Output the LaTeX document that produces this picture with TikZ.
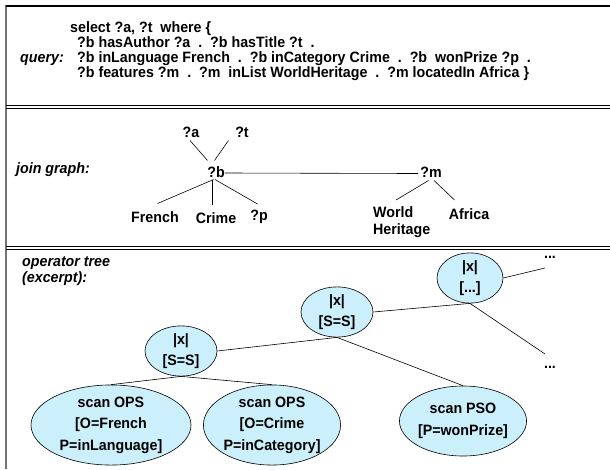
\documentclass[tikz,border=0pt]{standalone}
\usepackage{fontspec}
\setmainfont{Liberation Sans}[FakeStretch=0.95]
\usetikzlibrary{shapes.geometric}
\tikzset{
  txt/.style={font=\bfseries\fontsize{15}{17}\selectfont, inner sep=0pt},
  lbl/.style={font=\bfseries\itshape\fontsize{15}{16}\selectfont, inner sep=0pt, align=left},
  op/.style={ellipse, draw=black, line width=0.6pt, fill=cyan!20, inner sep=0pt, align=center,
     font=\bfseries\fontsize{15}{21.5}\selectfont},
  edge/.style={line width=0.6pt},
}
\begin{document}
\begin{tikzpicture}[x=1pt,y=-1pt]
\useasboundingbox (0,0) rectangle (610,469);
% frame
\draw[black!55, line width=2pt] (6,5) -- (6,469);
\draw[line width=1.4pt] (6,6) -- (610,6);
\draw[line width=0.9pt] (6,105.5) -- (610,105.5);
\draw[line width=0.9pt] (6,108.5) -- (610,108.5);
\draw[line width=0.9pt] (6,246.5) -- (610,246.5);
\draw[line width=0.9pt] (6,249.5) -- (610,249.5);
% query
\node[lbl, anchor=base west] (ql) at (20,62) {query:};
\node[txt, anchor=base west] (q1) at (70,32) {select ?a, ?t\ \ where \{};
\node[txt, anchor=base west] (q2) at (77,47) {?b hasAuthor ?a\ \ .\ \ ?b hasTitle ?t\ \ .};
\node[txt, anchor=base west] (q3) at (77,62) {?b inLanguage French\ \ .\ \ ?b inCategory Crime\ \ .\ \ ?b\ \ wonPrize ?p\ \ .};
\node[txt, anchor=base west] (q4) at (77,77) {?b features ?m\ \ .\ \ ?m\ \ inList WorldHeritage\ \ .\ \ ?m locatedIn Africa \}};
% join graph
\node[lbl, anchor=west] (jl) at (16,170) {join graph:};
\node[txt] (a) at (191,132) {?a};
\node[txt] (t) at (242,132) {?t};
\node[txt] (b) at (216,172) {?b};
\node[txt] (m) at (431,172) {?m};
\node[txt] (fr) at (155,217) {French};
\node[txt] (cr) at (216,218) {Crime};
\node[txt] (p) at (259,217) {?p};
\node[txt, align=left, anchor=north west] (wh) at (373,206) {World\\Heritage};
\node[txt] (af) at (469,214) {Africa};
\draw[edge] (190,140.5) -- (207.5,160.5);
\draw[edge] (228.5,140.5) -- (214.5,160.5);
\draw[edge] (b.east) ++(0,1) -- (418,173.5);
\draw[edge] (213.5,179.5) -- (157.5,203.5);
\draw[edge] (212.5,179.5) -- (212.5,205);
\draw[edge] (215,179.5) -- (257.5,204);
\draw[edge] (428.5,180.5) -- (396,200);
\draw[edge] (434,180.5) -- (454.5,200);
% operator tree
\node[lbl, anchor=north west] (ol) at (22,257) {operator tree\\(excerpt):};
\node[op, minimum width=66pt, minimum height=46pt] (j3) at (470,278) {|x|\\{[}...{]}};
\node[op, minimum width=72pt, minimum height=50pt] (j2) at (337,312) {|x|\\{[}S=S{]}};
\node[op, minimum width=72pt, minimum height=48pt] (j1) at (181,351) {|x|\\{[}S=S{]}};
\node[op, minimum width=160pt, minimum height=74pt] (s1) at (111,425) {scan OPS\\{[}O=French\\P=inLanguage{]}};
\node[op, minimum width=136pt, minimum height=74pt] (s2) at (272,425) {scan OPS\\{[}O=Crime\\P=inCategory{]}};
\node[op, minimum width=126pt, minimum height=70pt] (s3) at (463,421) {scan PSO\\{[}P=wonPrize{]}};
\node[txt] (d1) at (550,257) {...};
\node[txt] (d2) at (550,367) {...};
\coordinate (e1) at (545,268);
\coordinate (e2) at (545,354);
\draw[edge] (j3.east) -- (e1);
\draw[edge] (j3.south) -- (e2);
\draw[edge] (j2.east) -- (j3.south);
\draw[edge] (j1.east) -- (j2.south);
\draw[edge] (j2.south) -- (s3.north);
\draw[edge] (j1.south) -- (s1.north);
\draw[edge] (j1.south) -- (s2.north);
\end{tikzpicture}
\end{document}
